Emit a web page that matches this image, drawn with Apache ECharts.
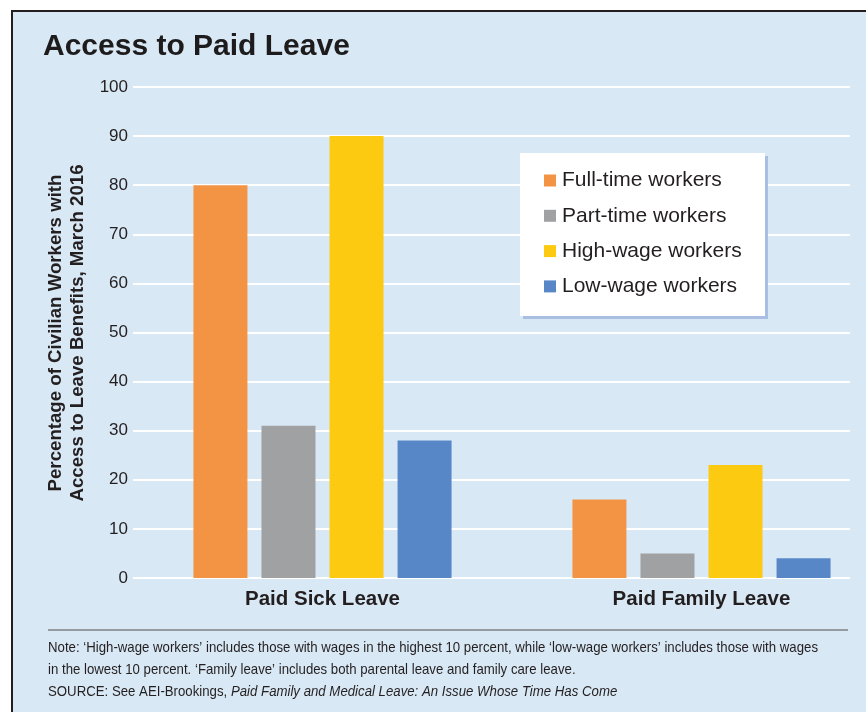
<!DOCTYPE html>
<html>
<head>
<meta charset="utf-8">
<script src="https://cdn.jsdelivr.net/npm/echarts@6/dist/echarts.min.js"></script>
<style>
html,body{margin:0;padding:0;background:#ffffff;}
#chart{width:866px;height:712px;}
</style>
</head>
<body>
<div id="chart"></div>
<script>
// ---- data ----
var categories = ['Paid Sick Leave', 'Paid Family Leave'];
var seriesNames = ['Full-time workers', 'Part-time workers', 'High-wage workers', 'Low-wage workers'];
var fullTime = [80, 16];
var partTime = [31, 5];
var highWage = [90, 23];
var lowWage = [28, 4];
var yTicks = [0, 10, 20, 30, 40, 50, 60, 70, 80, 90, 100];
var titleText = 'Access to Paid Leave';
var yAxisTitle = 'Percentage of Civilian Workers with\nAccess to Leave Benefits, March 2016';
var noteLine1 = 'Note: \u2018High-wage workers\u2019 includes those with wages in the highest 10 percent, while \u2018low-wage workers\u2019 includes those with wages';
var noteLine2 = 'in the lowest 10 percent. \u2018Family leave\u2019 includes both parental leave and family care leave.';
var sourcePrefix = 'SOURCE: See AEI-Brookings, ';
var sourceTitle = 'Paid Family and Medical Leave: An Issue Whose Time Has Come';

var colors = ['#f39444', '#a0a1a3', '#fcca11', '#5887c8'];
var seriesData = [fullTime, partTime, highWage, lowWage];
var textColor = '#231f20';
var fontFam = '"Liberation Sans", Arial, sans-serif';

// horizontal condensing factor for the note text (reference uses a condensed face)
var ctx = document.createElement('canvas').getContext('2d');
ctx.font = '15px "Liberation Sans"';
var noteScale = 770 / ctx.measureText(noteLine1).width;
ctx.font = 'bold 18px "Liberation Sans"';
var yTitleSize = 18 * 317 / ctx.measureText('Percentage of Civilian Workers with').width;

var chart = echarts.init(document.getElementById('chart'), null, {renderer: 'canvas'});

var series = seriesNames.map(function (name, i) {
  return {
    name: name,
    type: 'bar',
    xAxisIndex: 0,
    yAxisIndex: 0,
    data: seriesData[i],
    barWidth: 54,
    barGap: '26%',
    itemStyle: {color: colors[i]},
    emphasis: {disabled: true},
    z: 3
  };
});

var option = {
  animation: false,
  backgroundColor: 'transparent',
  color: colors,
  title: {
    text: titleText,
    left: 43,
    top: 32,
    padding: 0,
    textStyle: {fontFamily: fontFam, fontSize: 30, fontWeight: 'bold', color: '#1d1b1b'}
  },
  legend: {
    data: seriesNames,
    orient: 'vertical',
    left: 544,
    top: 170,
    padding: 0,
    itemWidth: 12,
    itemHeight: 12,
    itemGap: 14.3,
    icon: 'rect',
    selectedMode: false,
    z: 10,
    textStyle: {fontFamily: fontFam, fontSize: 21, lineHeight: 21, color: textColor, padding: [0, 0, 0, 1]}
  },
  grid: [
    {left: 133, top: 87, width: 758, height: 491, outerBoundsMode: 'none', containLabel: false},
    {left: 133, top: 87, width: 717, height: 491, outerBoundsMode: 'none', containLabel: false}
  ],
  xAxis: [
    {
      type: 'category', gridIndex: 0, data: categories,
      axisLine: {show: false}, axisTick: {show: false},
      axisLabel: {margin: 11, fontFamily: fontFam, fontSize: 20.5, fontWeight: 'bold', color: textColor}
    },
    {type: 'category', gridIndex: 1, data: categories, show: false}
  ],
  yAxis: [
    {type: 'value', gridIndex: 0, min: 0, max: 100, interval: 10, show: false, splitLine: {show: false}},
    {
      type: 'value', gridIndex: 1, min: yTicks[0], max: yTicks[yTicks.length - 1], interval: 10,
      axisLine: {show: false}, axisTick: {show: false},
      axisLabel: {margin: 5, fontFamily: fontFam, fontSize: 17, color: textColor},
      splitLine: {show: true, lineStyle: {color: '#ffffff', width: 2}}
    }
  ],
  graphic: [
    {type: 'rect', z: -100, shape: {x: 12, y: 11, width: 880, height: 720},
      style: {fill: '#d9e8f5', stroke: '#231f20', lineWidth: 2}},
    {type: 'rect', z: 5, shape: {x: 523, y: 156, width: 245, height: 163}, style: {fill: '#a9bfe2'}},
    {type: 'rect', z: 6, shape: {x: 520, y: 153, width: 245, height: 163}, style: {fill: '#ffffff'}},
    {type: 'text', z: 5, x: 67, y: 333, rotation: Math.PI / 2,
      style: {text: yAxisTitle, x: 0, y: 0, align: 'center', verticalAlign: 'middle', lineHeight: 22,
        font: 'bold ' + yTitleSize.toFixed(2) + 'px ' + fontFam, fill: textColor}},
    {type: 'line', z: 5, shape: {x1: 48, y1: 630, x2: 848, y2: 630}, style: {stroke: '#7f8184', lineWidth: 1.5}},
    {type: 'text', z: 5, x: 48, y: 647.5, scaleX: noteScale,
      style: {text: noteLine1, align: 'left', verticalAlign: 'middle', font: '15px ' + fontFam, fill: textColor}},
    {type: 'text', z: 5, x: 48, y: 669.5, scaleX: noteScale,
      style: {text: noteLine2, align: 'left', verticalAlign: 'middle', font: '15px ' + fontFam, fill: textColor}},
    {type: 'text', z: 5, x: 48, y: 691.5, scaleX: noteScale,
      style: {text: '{n|' + sourcePrefix + '}{i|' + sourceTitle + '}', align: 'left', verticalAlign: 'middle',
        fill: textColor,
        rich: {
          n: {fontFamily: fontFam, fontSize: 15, color: textColor},
          i: {fontFamily: fontFam, fontSize: 15, fontStyle: 'italic', color: textColor}
        }}}
  ],
  series: series
};
chart.setOption(option);
</script>
</body>
</html>
